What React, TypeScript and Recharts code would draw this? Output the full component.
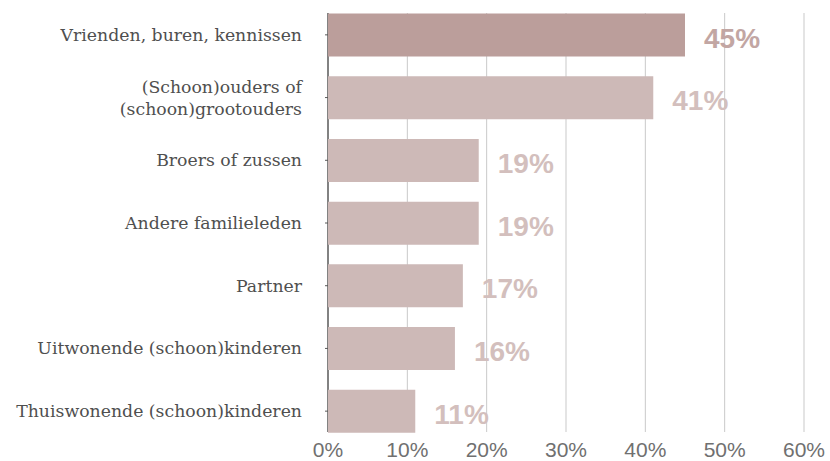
import { BarChart, Bar, XAxis, YAxis, CartesianGrid, Cell, LabelList } from "recharts";

const categories = [
  "Vrienden, buren, kennissen",
  "(Schoon)ouders of\n(schoon)grootouders",
  "Broers of zussen",
  "Andere familieleden",
  "Partner",
  "Uitwonende (schoon)kinderen",
  "Thuiswonende (schoon)kinderen",
];

const percentages = [45, 41, 19, 19, 17, 16, 11];

const xTicks = [0, 10, 20, 30, 40, 50, 60];

const BAR_COLORS = ["#bb9e9b", "#cdb9b7"];
const LABEL_COLORS = ["#c2a6a3", "#d3bfbd"];

const data = categories.map((name, i) => ({ name, value: percentages[i] }));

function CategoryTick(props: any) {
  const { x, y, payload } = props;
  const lines = String(payload.value).split("\n");
  const lineHeight = 22;
  const startY = y - ((lines.length - 1) * lineHeight) / 2;
  return (
    <text
      x={x}
      y={startY}
      textAnchor="end"
      dominantBaseline="central"
      fill="#4f4f4f"
      fontFamily="DejaVu Serif"
      fontSize={17.3}
    >
      {lines.map((line, i) => (
        <tspan key={i} x={x} y={startY + i * lineHeight}>
          {line}
        </tspan>
      ))}
    </text>
  );
}

function ValueLabel(props: any) {
  const { x, y, width, height, value, index } = props;
  return (
    <text
      x={x + width + 19}
      y={y + height / 2 + 3}
      dominantBaseline="central"
      fill={index === 0 ? LABEL_COLORS[0] : LABEL_COLORS[1]}
      fontFamily="Liberation Sans"
      fontWeight="bold"
      fontSize={28}
    >
      {value}%
    </text>
  );
}

function GridLine(props: any) {
  const { x1, x2, y1, y2, index } = props;
  const isAxis = index === 0;
  return (
    <line
      key={`grid-${index}`}
      x1={x1}
      x2={x2}
      y1={y1 + 9.5}
      y2={y2 - 10.5}
      stroke={isAxis ? "#595959" : "#c9c9c9"}
      strokeWidth={isAxis ? 1.5 : 1}
    />
  );
}

export default function App() {
  return (
    <div style={{ position: "absolute", left: 0, top: 0, width: 830, height: 461, background: "#fff" }}>
      <BarChart
        width={830}
        height={461}
        data={data}
        layout="vertical"
        margin={{ top: 3.5, right: 26, bottom: 0, left: 0 }}
      >
        <CartesianGrid horizontal={false} vertical={GridLine} />
        <XAxis
          type="number"
          domain={[0, 60]}
          ticks={xTicks}
          tickFormatter={(v) => `${v}%`}
          axisLine={false}
          tickLine={false}
          tickSize={0}
          tickMargin={0}
          height={18.5}
          interval={0}
          tick={{ fill: "#707070", fontFamily: "Liberation Sans", fontSize: 21 }}
        />
        <YAxis
          type="category"
          dataKey="name"
          width={328}
          axisLine={false}
          tickLine={{ stroke: "#595959" }}
          tickSize={3}
          tickMargin={23}
          interval={0}
          tick={<CategoryTick />}
        />
        <Bar dataKey="value" barSize={43} isAnimationActive={false}>
          {data.map((_, i) => (
            <Cell key={`cell-${i}`} fill={i === 0 ? BAR_COLORS[0] : BAR_COLORS[1]} />
          ))}
          <LabelList dataKey="value" content={<ValueLabel />} />
        </Bar>
      </BarChart>
    </div>
  );
}
